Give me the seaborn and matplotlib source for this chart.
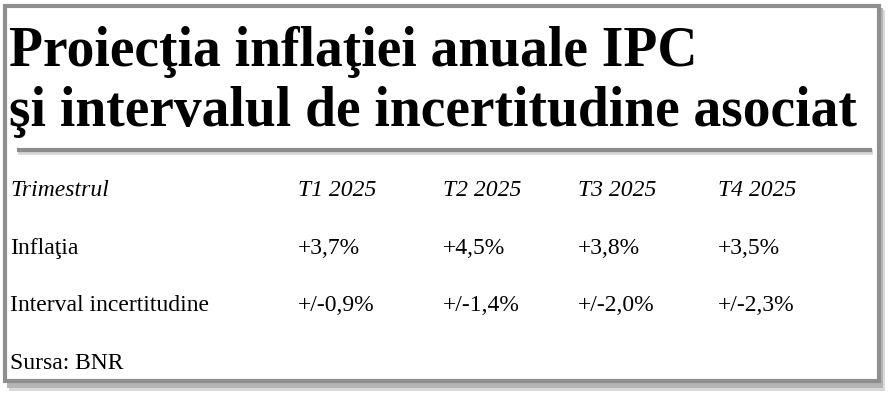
import matplotlib
matplotlib.use("Agg")
import matplotlib.pyplot as plt
import seaborn as sns
import pandas as pd
from matplotlib.patches import Rectangle

title_lines = ["Proiecţia inflaţiei anuale IPC", "şi intervalul de incertitudine asociat"]
header_label = "Trimestrul"
quarters = ["T1 2025", "T2 2025", "T3 2025", "T4 2025"]
row_labels = ["Inflaţia", "Interval incertitudine"]
inflation = ["+3,7%", "+4,5%", "+3,8%", "+3,5%"]
uncertainty = ["+/-0,9%", "+/-1,4%", "+/-2,0%", "+/-2,3%"]
source = "Sursa: BNR"

sns.set_theme(style="white")
SERIF = ["Liberation Serif", "DejaVu Serif"]
plt.rcParams["font.family"] = SERIF
plt.rcParams["text.color"] = "black"

table = pd.DataFrame([inflation, uncertainty], index=row_labels, columns=quarters)

fig = plt.figure(figsize=(8.88, 4.0), dpi=100)
fig.patch.set_facecolor("white")
ax = fig.add_axes([0, 0, 1, 1])
ax.set_xlim(0, 888)
ax.set_ylim(400, 0)
ax.axis("off")

# shadow + frame
ax.add_patch(Rectangle((9, 10), 876, 381, facecolor="#d9d9d9", edgecolor="none", zorder=0))
ax.add_patch(Rectangle((7, 8), 876, 380, facecolor="#b5b5b5", edgecolor="none", zorder=0))
ax.add_patch(Rectangle((5, 6), 874, 375, facecolor="white", edgecolor="#8f8f8f", linewidth=3, zorder=1))

# title
for y, line in zip([66, 126], title_lines):
    ax.text(9, y, line, fontsize=40, fontweight="bold", family=SERIF,
            ha="left", va="baseline", color="black", zorder=3)
ax.plot([18, 873], [152, 152], color="#d4d4d4", linewidth=4, solid_capstyle="butt", zorder=2)
ax.plot([17, 872], [150, 150], color="#8c8c8c", linewidth=3, solid_capstyle="butt", zorder=2)

col_x = [298, 443, 578, 718]
fs = 17
body = dict(fontsize=fs, family=SERIF, ha="left", va="baseline", color="black", zorder=3)
ax.text(10, 196, header_label, style="italic", **body)
for x, q in zip(col_x, quarters):
    ax.text(x, 196, q, style="italic", **body)

row_y = [254, 311]
for y, (lab, row) in zip(row_y, table.iterrows()):
    ax.text(10, y, lab, **body)
    for x, v in zip(col_x, row.values):
        ax.text(x, y, v, **body)

ax.text(10, 369, source, **body)

fig.savefig("out.png", dpi=100)
